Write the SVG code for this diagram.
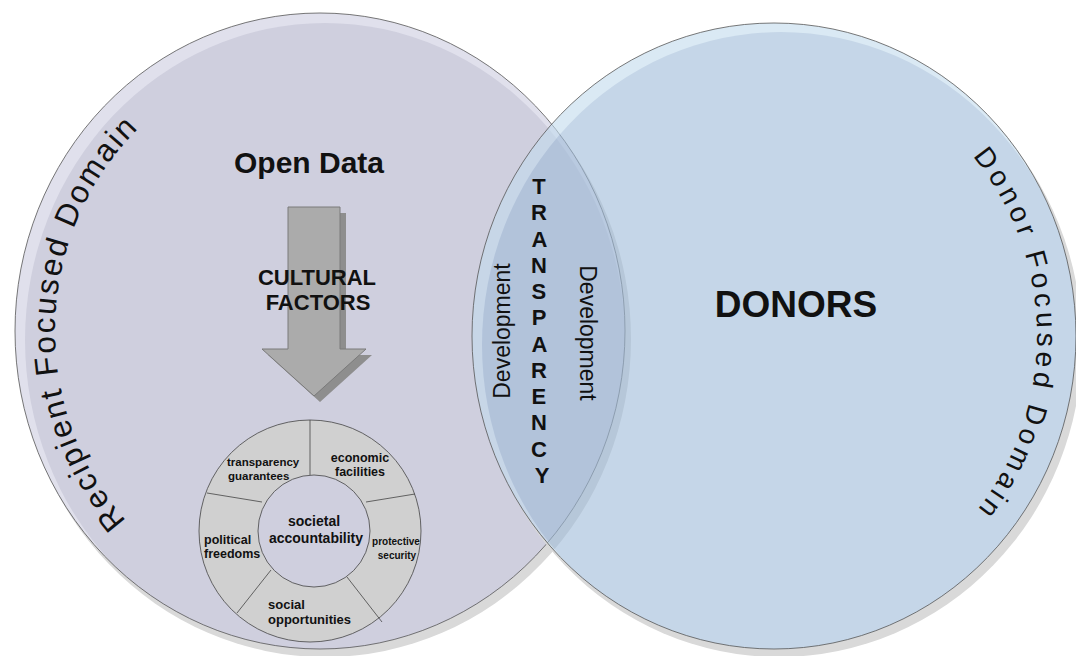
<svg xmlns="http://www.w3.org/2000/svg" width="1076" height="656" viewBox="0 0 1076 656">
<style>
  text { font-family: "Liberation Sans", Arial, sans-serif; fill: #111; }
  .b { font-weight: bold; }
  .outline { fill: none; stroke: #555; stroke-width: 0.8; }
  .shadow { fill: #d9d9d9; }
  .ring { fill: #d0d0d0; stroke: #444; stroke-width: 0.8; }
  .div { stroke: #444; stroke-width: 0.8; fill: none; }
  .rt { font-weight: bold; }
</style>
<defs>
  <clipPath id="clipL"><ellipse cx="320" cy="331" rx="305" ry="318"/></clipPath>
  <clipPath id="clipR"><ellipse cx="774" cy="336" rx="302" ry="313"/></clipPath>
  <mask id="outR"><rect width="1076" height="656" fill="#fff"/><ellipse cx="774" cy="336" rx="302" ry="313" fill="#000"/></mask>
  <path id="pathL" d="M 149.7 544 A 265 278 0 0 1 55 331 A 265 278 0 0 1 229.4 69.8"/>
  <path id="pathR" d="M 943.1 126.1 A 263 274 0 0 1 1037 336 A 263 274 0 0 1 943.1 545.9"/>
</defs>

<g id="recipient-domain">
  <ellipse class="shadow" cx="325" cy="339" rx="306" ry="318"/>
  <ellipse cx="320" cy="331" rx="305" ry="318" fill="#e0e0ec"/>
  <ellipse cx="325" cy="340" rx="300" ry="317" fill="#cfcfde" clip-path="url(#clipL)"/>
  <ellipse class="outline" cx="320" cy="331" rx="305" ry="318"/>
  <text font-size="31.5" letter-spacing="2.3"><textPath href="#pathL" startOffset="33">Recipient Focused Domain</textPath></text>
</g>

<g id="donor-domain">
  <ellipse class="shadow" cx="779" cy="344" rx="303" ry="313" mask="url(#outR)"/>
  <g opacity="0.6">
    <ellipse cx="774" cy="336" rx="302" ry="313" fill="#c3dcee"/>
    <ellipse cx="781" cy="345" rx="299" ry="313" fill="#a0bcd9" clip-path="url(#clipR)"/>
  </g>
  <ellipse class="outline" cx="774" cy="336" rx="302" ry="313"/>
  <text font-size="28" letter-spacing="4.5"><textPath href="#pathR" startOffset="42">Donor Focused Domain</textPath></text>
</g>

<g id="open-data">
  <text class="b" x="309" y="173" font-size="30" text-anchor="middle">Open Data</text>
</g>

<g id="connectors">
  <polygon points="294,213 346,213 346,355 372,355 320,402 268,355 294,355" fill="#8e8e8e"/>
  <polygon points="288,207 340,207 340,349 366,349 314,396 262,349 288,349" fill="#ababab" stroke="#7a7a7a" stroke-width="1"/>
</g>

<g id="cultural-factors">
  <text class="b" x="317" y="285" font-size="22" text-anchor="middle">CULTURAL</text>
  <text class="b" x="318" y="310" font-size="22" text-anchor="middle">FACTORS</text>
</g>

<g id="capability-ring">
  <circle class="ring" cx="310" cy="531" r="111"/>
  <circle cx="314" cy="531" r="56" fill="#cfcfde" stroke="#444" stroke-width="0.8"/>
  <line class="div" x1="310" y1="420" x2="310" y2="475"/>
  <line class="div" x1="207" y1="493" x2="262" y2="502"/>
  <line class="div" x1="366" y1="502" x2="415" y2="494"/>
  <line class="div" x1="271" y1="570" x2="237" y2="613"/>
  <line class="div" x1="347" y1="577" x2="382" y2="622"/>
  <text class="rt" x="227" y="466" font-size="11.5">transparency</text>
  <text class="rt" x="228" y="480" font-size="11.5">guarantees</text>
  <text class="rt" x="360" y="462" font-size="12.5" text-anchor="middle">economic</text>
  <text class="rt" x="360" y="476" font-size="12.5" text-anchor="middle">facilities</text>
  <text class="rt" x="314" y="526" font-size="14" text-anchor="middle">societal</text>
  <text class="rt" x="316" y="543" font-size="14" text-anchor="middle">accountability</text>
  <text class="rt" x="204" y="544" font-size="12.5">political</text>
  <text class="rt" x="204" y="558" font-size="12.5">freedoms</text>
  <text class="rt" x="396" y="545" font-size="10" text-anchor="middle">protective</text>
  <text class="rt" x="397" y="559" font-size="10" text-anchor="middle">security</text>
  <text class="rt" x="268" y="609" font-size="13">social</text>
  <text class="rt" x="268" y="624" font-size="13">opportunities</text>
</g>

<g id="transparency">
  <text class="b" font-size="22" text-anchor="middle">
    <tspan x="542" y="194">T</tspan>
    <tspan x="542" y="220.3">R</tspan>
    <tspan x="542" y="246.5">A</tspan>
    <tspan x="542" y="272.8">N</tspan>
    <tspan x="542" y="299">S</tspan>
    <tspan x="542" y="325.3">P</tspan>
    <tspan x="542" y="351.5">A</tspan>
    <tspan x="542" y="377.8">R</tspan>
    <tspan x="542" y="404">E</tspan>
    <tspan x="542" y="430.3">N</tspan>
    <tspan x="542" y="456.5">C</tspan>
    <tspan x="542" y="482.8">Y</tspan>
  </text>
  <text font-size="23" text-anchor="middle" transform="translate(510,331) rotate(-90)">Development</text>
  <text font-size="23" text-anchor="middle" transform="translate(580,333) rotate(90)">Development</text>
</g>

<g id="donors">
  <text class="b" x="796" y="317" font-size="37" text-anchor="middle">DONORS</text>
</g>
</svg>
